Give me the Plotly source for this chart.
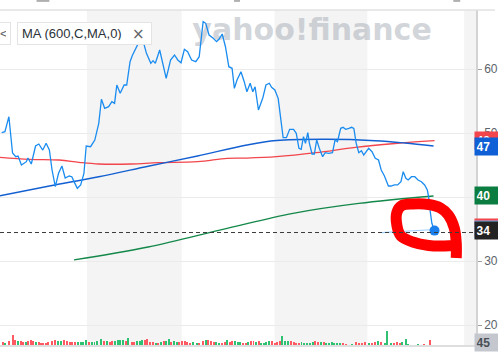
import plotly.graph_objects as go

# ---------------- data (time position t, price in $) ----------------
price_t = [1.7, 5, 9, 12.7, 16, 18.3, 21.7, 26.7, 28.3, 31.7, 36, 39.3, 43.3, 46.7, 50, 52.7, 56, 59.3, 62.7, 66,
           70, 72.7, 75, 78.3, 81.7, 85, 87.3, 91.7, 96, 100, 102.7, 106, 110, 113.3, 116, 118.3, 121.7, 125.7, 128.3, 130,
           131.7, 134, 137, 140, 143, 146, 148.3, 152.7, 155, 157.3, 161.7, 164, 168.3, 172.7, 176.7, 180, 183.3, 186.7, 190, 194,
           198.3, 201.7, 205.7, 208.3, 211.7, 216, 219.3, 221.7, 225, 228.3, 231.7, 235, 237.3, 240, 244, 247.3, 250, 253.3, 256, 258.3,
           261.7, 266, 269.3, 272.7, 275, 278.3, 281.7, 286.7, 290, 293.3, 297.3, 300, 302.7, 305, 307.3, 309.3, 311.7, 313.3, 316, 318.3,
           320.7, 323.3, 326.7, 329.3, 332.7, 336.7, 339.3, 341.7, 345, 347.3, 350, 353.3, 356, 358.3, 360.7, 363.3, 366, 368.3, 370.7, 373.3,
           376.7, 380, 383.3, 386, 389.3, 393.3, 396, 399.3, 402.7, 406, 408.3, 411, 413.3, 416.7, 420, 423.3, 426.7, 430, 432.7, 434,
           435, 437.3, 440]
price_val = [50.05, 50.2, 52.55, 46.87, 46.3, 46.4, 45.0, 45.52, 46.1, 45.16, 47.97, 48.28, 47.34, 48.4, 47.34, 44.22, 41.61, 43.7, 44.84, 42.97,
             43.28, 43.17, 42.4, 41.36, 41.88, 43.7, 47.97, 47.86, 48.9, 51.52, 55.27, 53.86, 54.11, 54.89, 54.64, 57.5, 56.2, 57.5, 57.5, 59.84,
             61.14, 62.1, 62.97, 64.0, 64.5, 63.75, 62.45, 60.89, 61.3, 60.89, 62.97, 61.41, 58.55, 61.41, 62.19, 61.41, 60.98, 63.08, 62.7, 61.41,
             61.14, 61.92, 67.39, 67.14, 65.31, 64.8, 64.27, 64.64, 65.47, 63.48, 60.36, 60.11, 56.98, 58.28, 59.58, 58.02, 56.45, 57.77, 56.45, 57.23,
             53.59, 55.42, 57.5, 57.77, 57.14, 56.72, 55.42, 49.27, 49.27, 50.58, 50.58, 49.95, 47.61, 47.45, 49.42, 48.39, 50.05, 48.39, 46.72, 46.72,
             48.91, 47.61, 46.3, 46.92, 46.83, 46.92, 48.91, 48.64, 50.73, 50.89, 50.58, 50.73, 50.89, 50.73, 48.39, 46.92, 47.23, 46.56, 47.08, 47.61,
             47.08, 46.05, 45.78, 44.22, 43.28, 41.72, 41.72, 41.88, 41.88, 42.39, 43.95, 42.92, 42.66, 43.17, 43.17, 42.66, 42.39, 41.88, 41.09, 40.05,
             38.48, 35.89, 34.75]

ma_red_t = [0, 30, 60, 80, 100, 133, 160, 200, 230, 250, 280, 320, 360, 400, 440]
ma_red_val = [46.2, 45.89, 45.78, 45.42, 45.16, 45.16, 45.36, 45.52, 46.05, 46.09, 46.3, 46.92, 47.77, 48.36, 48.8]

ma_blue_t = [0, 50, 100, 150, 200, 250, 280, 330, 380, 410, 439]
ma_blue_val = [40.2, 41.72, 43.17, 44.8, 46.41, 48.13, 48.83, 49.02, 48.8, 48.44, 47.97]

ma_green_t = [75, 150, 230, 296.7, 363.3, 439]
ma_green_val = [30.16, 32.19, 35.11, 37.45, 39.0, 40.16]

trend_t = [386.7, 440]
trend_val = [34.42, 34.92]

last_close = 34.45

vol_t = [2.7, 5.3, 9, 12.7, 15.3, 18.3, 21, 23.3, 26, 28.3, 31, 33.7, 36.7, 39, 41.3, 44, 46.7, 49, 52.7, 55.3,
         58.3, 61.3, 65.3, 68, 70.7, 73.3, 76, 78.7, 81.7, 84, 86.7, 90, 92.7, 95.7, 98.3, 102.3, 105.3, 108.3, 111, 113.7,
         116.3, 119, 121.7, 124.3, 127.3, 130, 133.3, 136, 138.7, 141.3, 144, 146.7, 149.3, 152, 155, 157.7, 160, 162.7, 165.7, 168.3,
         170.7, 173.3, 176, 179, 181.7, 184.3, 187, 189.7, 192.7, 195.3, 199, 201.7, 205.3, 208.3, 211, 213.7, 216.3, 219, 221.7, 225,
         227.7, 230.3, 232.7, 235.3, 238, 240.7, 243.3, 246, 248.7, 251.3, 253.7, 256.7, 259.3, 262, 264.3, 267, 269.7, 272.7, 275.3, 278,
         280.7, 283.3, 286, 289, 291.7, 294.3, 297.3, 300, 302.7, 305.3, 308.3, 311.3, 314, 316.7, 319.3, 322.3, 325, 327.7, 330.3, 333.3,
         336, 338.7, 341.7, 344.3, 347.3, 350, 356.7, 360.7, 364, 366.7, 370, 373.3, 376.7, 379.3, 382.7, 386, 390, 392.3, 396, 398.7,
         401.7, 404.7, 407.3, 410.7, 413.3, 423.3, 429, 435, 438.3]
vol_val = [33, 23, 43, 100, 50, 40, 37, 33, 27, 37, 47, 40, 27, 30, 23, 23, 23, 27, 43, 53,
           37, 37, 47, 37, 33, 27, 30, 27, 30, 30, 47, 27, 27, 30, 37, 57, 40, 37, 30, 37,
           43, 47, 47, 47, 43, 67, 33, 27, 37, 40, 47, 47, 57, 33, 27, 20, 23, 33, 37, 40,
           57, 33, 37, 33, 33, 37, 37, 33, 23, 27, 17, 23, 43, 50, 47, 37, 33, 27, 13, 20,
           30, 53, 27, 40, 43, 30, 27, 20, 23, 27, 37, 37, 30, 37, 23, 23, 27, 37, 40, 23,
           33, 40, 90, 40, 40, 37, 27, 23, 23, 30, 20, 17, 23, 27, 37, 27, 27, 27, 20, 13,
           27, 20, 23, 17, 17, 10, 10, 27, 17, 23, 33, 17, 17, 27, 37, 27, 20, 140, 23, 13,
           27, 20, 33, 57, 10, 10, 10, 47, 50]
vol_dir = "rgrrrgrrgrrrgrrrrrrrggrrrrrgggg rgggg rgrrgggg rgrrg ggrrrrgrgrggrgg rrrrrggrrgrrrggrrgrrggg rrgrrgrgggg rrrrgggrrrrgggggrrgrgggggg rrgrrrrgrrgrggg rrrggggrr"
vol_dir = vol_dir.replace(" ", "")

# hand-drawn red loop (drawn on top of the chart)
loop_t = [462, 462, 460, 454, 446, 434, 418, 407, 402, 402, 406, 418, 434, 450, 461]
loop_val = [30.47, 32.81, 35.16, 37.19, 38.28, 38.83, 38.91, 38.67, 37.66, 35.47, 33.91, 32.97, 32.42, 32.34, 32.5]

# shaded periods
band_start = [88, 278, 470]
band_end = [184, 372, 482]

y_ticks = [20, 30, 40, 50, 60]

# ---------------- figure ----------------
PRICE = "#1a8cf0"
BLUE = "#1460d2"
RED = "#f2454c"
GREEN = "#13884a"

fig = go.Figure()

# watermark (first trace so lines sit on top)
fig.add_trace(go.Scatter(x=[316], y=[65.7], mode="text", text=["yahoo!finance"],
                         textfont=dict(family="DejaVu Sans", size=30, color="rgba(165,172,182,0.5)", weight="bold"),
                         hoverinfo="skip", showlegend=False))

# volume
n = min(len(vol_t), len(vol_val), len(vol_dir))
rt = [vol_t[i] for i in range(n) if vol_dir[i] == "r"]
rv = [vol_val[i] for i in range(n) if vol_dir[i] == "r"]
gt = [vol_t[i] for i in range(n) if vol_dir[i] == "g"]
gv = [vol_val[i] for i in range(n) if vol_dir[i] == "g"]
fig.add_trace(go.Bar(x=rt, y=rv, width=1.0, marker=dict(color="#ff5a61", line_width=0), yaxis="y2", showlegend=False))
fig.add_trace(go.Bar(x=gt, y=gv, width=1.0, marker=dict(color="#2fc172", line_width=0), yaxis="y2", showlegend=False))

# moving averages
fig.add_trace(go.Scatter(x=ma_green_t, y=ma_green_val, mode="lines", line=dict(color=GREEN, width=1.3, shape="spline"), showlegend=False))
fig.add_trace(go.Scatter(x=ma_red_t, y=ma_red_val, mode="lines", line=dict(color=RED, width=1.3, shape="spline"), showlegend=False))
fig.add_trace(go.Scatter(x=ma_blue_t, y=ma_blue_val, mode="lines", line=dict(color=BLUE, width=1.4, shape="spline"), showlegend=False))

# faint trend segment
fig.add_trace(go.Scatter(x=trend_t, y=trend_val, mode="lines", line=dict(color="#9fd0ff", width=1.2), showlegend=False))

# price
fig.add_trace(go.Scatter(x=price_t, y=price_val, mode="lines", line=dict(color=PRICE, width=1.3), showlegend=False))
fig.add_trace(go.Scatter(x=[price_t[-1]], y=[price_val[-1]], mode="markers",
                         marker=dict(color="#1a80ee", size=10), showlegend=False))

# red loop
fig.add_trace(go.Scatter(x=loop_t, y=loop_val, mode="lines",
                         line=dict(color="#ff0000", width=11, shape="spline"), showlegend=False))

shapes = []
for s, e in zip(band_start, band_end):
    shapes.append(dict(type="rect", xref="x", yref="paper", x0=s, x1=e, y0=0, y1=1,
                       fillcolor="#f4f4f4", line_width=0, layer="below"))
shapes.append(dict(type="line", xref="paper", yref="y", x0=0, x1=1, y0=last_close, y1=last_close,
                   line=dict(color="#3a3a3a", width=1, dash="4px,3px")))
# top border line
shapes.append(dict(type="line", xref="paper", yref="paper", x0=0, x1=1.04, y0=1, y1=1,
                   line=dict(color="#e2e2e2", width=1.5)))
# toolbar remnants
for a, b in [(37, 50), (237, 243), (459, 466)]:
    shapes.append(dict(type="line", xref="x", yref="paper", x0=a, x1=b, y0=1.027, y1=1.027,
                       line=dict(color="#9a9a9a", width=1.5)))

annotations = []
# legend box
annotations.append(dict(xref="paper", yref="paper", x=17 / 482, y=(345 - 22) / 335, xanchor="left", yanchor="top",
                        text="MA (600,C,MA,0)", showarrow=False, align="left", width=125, height=13,
                        font=dict(family="Liberation Sans, Arial", size=13, color="#2b3138"),
                        bgcolor="white", bordercolor="#e4e4e4", borderwidth=1, borderpad=4))
annotations.append(dict(xref="paper", yref="paper", x=140 / 482, y=(345 - 33.5) / 335, xanchor="center", yanchor="middle",
                        text="×", showarrow=False, font=dict(family="DejaVu Sans", size=15, color="#5f6368")))
annotations.append(dict(xref="paper", yref="paper", x=11 / 482, y=(345 - 22) / 335, xanchor="right", yanchor="top",
                        text="<", showarrow=False, align="left", width=6, height=13,
                        font=dict(family="Liberation Sans, Arial", size=13, color="#5f6368"),
                        bgcolor="white", bordercolor="#e4e4e4", borderwidth=1, borderpad=4))


def tag(val, txt, bg, fg="white"):
    annotations.append(dict(xref="paper", yref="y", x=1, y=val, xanchor="left", yanchor="middle", xshift=-2,
                            text="<b>" + txt + "</b>", showarrow=False, align="left", width=24, height=14,
                            font=dict(family="Liberation Sans, Arial", size=12, color=fg),
                            bgcolor=bg, borderpad=1.5))


tag(ma_red_val[-1], "48", RED)
tag(ma_blue_val[-1], "47", "#0f5fd6")
tag(ma_green_val[-1], "40", "#0b7d40")
tag(35.25, "35", RED)
tag(35.0, "35", "#79b8f5")
tag(34.8, "34", "#232323")
tag(17.3, "45", "#c4c8ce", "#4a4f55")

fig.update_layout(
    width=498, height=353,
    margin=dict(l=0, r=16, t=10, b=8),
    paper_bgcolor="white", plot_bgcolor="white",
    bargap=0,
    xaxis=dict(range=[0, 482], showticklabels=False, showgrid=False, zeroline=False,
               showline=True, linecolor="#dedede", linewidth=1.5, fixedrange=True),
    yaxis=dict(side="right", range=[16.875, 69.22], tickvals=y_ticks, ticktext=[str(v) for v in y_ticks],
               showgrid=True, gridcolor="#ebebeb", gridwidth=1, zeroline=False,
               showline=True, linecolor="#d3d3d3", linewidth=1.5,
               ticks="outside", ticklen=4, tickcolor="#a0a0a0",
               tickfont=dict(family="Liberation Sans, Arial", size=12, color="#5b636a")),
    yaxis2=dict(overlaying="y", range=[0, 3350], visible=False, showgrid=False),
    shapes=shapes,
    annotations=annotations,
    showlegend=False,
)

fig.write_html("out.html")
